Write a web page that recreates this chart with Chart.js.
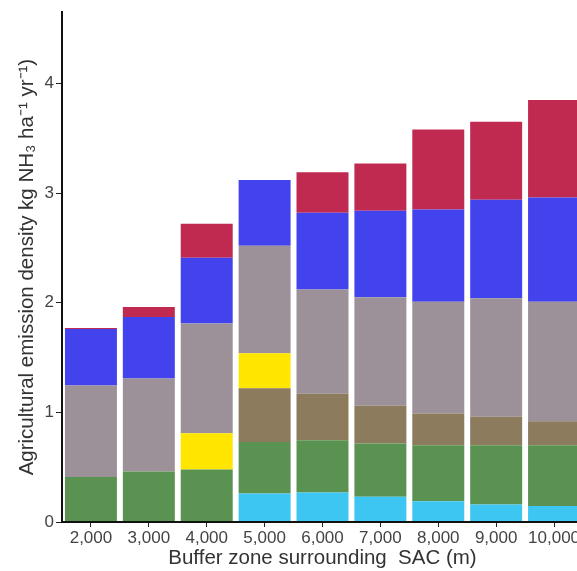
<!DOCTYPE html>
<html>
<head>
<meta charset="utf-8">
<script src="https://cdn.jsdelivr.net/npm/chart.js@4"></script>
<style>
html,body{margin:0;padding:0;background:#fff;overflow:hidden;}
#wrap{position:absolute;left:0;top:0;width:583px;height:571px;}
</style>
</head>
<body>
<div id="wrap"><canvas id="c"></canvas></div>
<script>
const categories = ['2,000','3,000','4,000','5,000','6,000','7,000','8,000','9,000','10,000'];
const cyanVals   = [0, 0, 0, 0.26, 0.27, 0.23, 0.19, 0.16, 0.145];
const greenVals  = [0.41, 0.46, 0.48, 0.47, 0.475, 0.485, 0.51, 0.54, 0.555];
const brownVals  = [0, 0, 0, 0.49, 0.425, 0.345, 0.29, 0.26, 0.22];
const yellowVals = [0, 0, 0.33, 0.32, 0, 0, 0, 0, 0];
const greyVals   = [0.835, 0.85, 1.0, 0.98, 0.95, 0.99, 1.02, 1.08, 1.09];
const blueVals   = [0.515, 0.56, 0.60, 0.60, 0.70, 0.79, 0.84, 0.90, 0.95];
const redVals    = [0.01, 0.09, 0.31, 0, 0.37, 0.43, 0.73, 0.71, 0.89];
const yTicks = [0, 1, 2, 3, 4];

const series = [
  ['Cyan', cyanVals, '#3dc6f2'],
  ['Green', greenVals, '#5a9351'],
  ['Brown', brownVals, '#8c7b5c'],
  ['Yellow', yellowVals, '#ffe500'],
  ['Grey', greyVals, '#9d9199'],
  ['Blue', blueVals, '#4343ee'],
  ['Red', redVals, '#c02a50']
];

const FONT = 'Liberation Sans, Arial, sans-serif';

new Chart(document.getElementById('c'), {
  type: 'bar',
  data: {
    labels: categories,
    datasets: series.map(s => ({
      label: s[0], data: s[1], backgroundColor: s[2],
      borderWidth: 0, barPercentage: 0.898, categoryPercentage: 1.0
    }))
  },
  options: {
    responsive: true,
    maintainAspectRatio: false,
    animation: false,
    layout: { padding: { top: 12, right: 0, left: 0, bottom: 0 } },
    plugins: { legend: { display: false }, tooltip: { enabled: false } },
    scales: {
      x: {
        stacked: true,
        grid: { drawOnChartArea: false, offset: false, color: '#222', tickLength: 5, lineWidth: 1 },
        border: { display: true, color: '#111', width: 2, z: 1 },
        ticks: { color: '#444', font: { family: FONT, size: 17 }, padding: 1, maxRotation: 0, autoSkip: false },
        title: { display: true, text: 'Buffer zone surrounding  SAC (m)', color: '#333',
                 font: { family: FONT, size: 20.5 }, padding: { top: 0, bottom: 0 } },
        afterFit: (s) => { s.height = 49; }
      },
      y: {
        stacked: true,
        min: 0, max: 4.65,
        afterBuildTicks: (s) => { s.ticks = yTicks.map(v => ({ value: v })); },
        grid: { drawOnChartArea: false, color: '#222', tickLength: 6, lineWidth: 1 },
        border: { display: true, color: '#111', width: 2, z: 1 },
        ticks: { color: '#444', font: { family: FONT, size: 17 }, padding: 2 },
        title: { display: true, text: 'Agricultural emission density kg NH\u2083 ha\u207B\u00B9 yr\u207B\u00B9)', color: '#333',
                 font: { family: FONT, size: 20.5 }, padding: { top: 15, bottom: 0 } },
        afterFit: (s) => { s.width = 62; }
      }
    }
  }
});
</script>
</body>
</html>
